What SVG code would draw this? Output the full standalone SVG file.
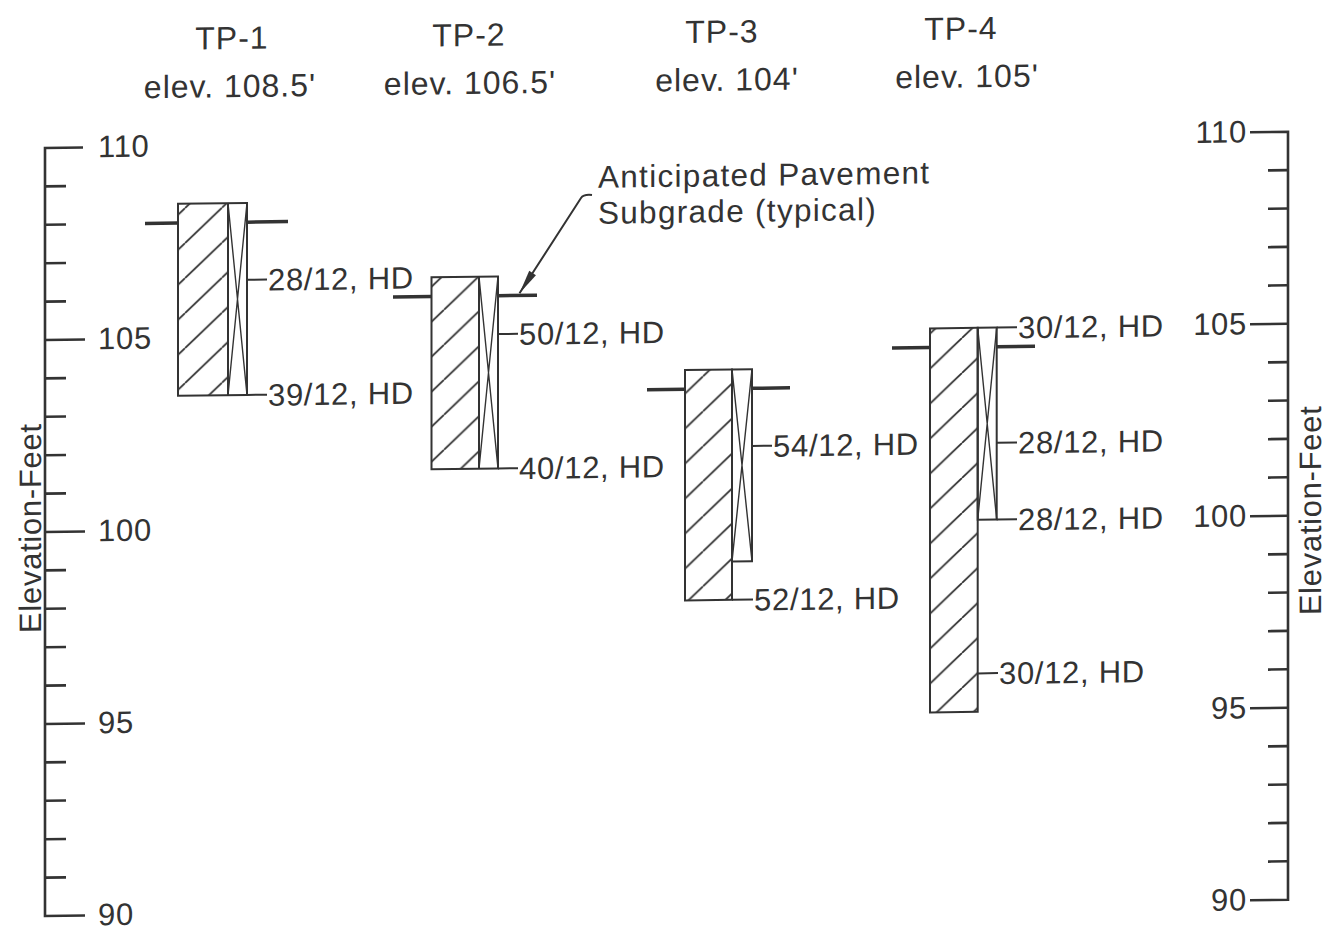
<svg xmlns="http://www.w3.org/2000/svg" width="1330" height="930" viewBox="0 0 1330 930">
<defs>
<style>
text{font-family:"Liberation Sans",Arial,sans-serif;font-size:31px;fill:#333;letter-spacing:0.7px}
.hdr{font-size:32px;letter-spacing:1px}
.ann{font-size:31.5px;letter-spacing:1.3px}
.ax{stroke:#333;stroke-width:2.6;fill:none}
.box{stroke:#333;stroke-width:2;fill:none}
.xl{stroke:#333;stroke-width:1.4;fill:none}
.sg{stroke:#333;stroke-width:3.5;fill:none}
.ld{stroke:#333;stroke-width:2;fill:none}
</style>
<pattern id="hatch" patternUnits="userSpaceOnUse" width="37" height="35">
<path d="M-37,35 L0,0 M0,35 L37,0 M37,35 L74,0" stroke="#333" stroke-width="1.8"/>
</pattern>
<marker id="arr" markerUnits="userSpaceOnUse" markerWidth="30" markerHeight="12" viewBox="-26 -6 28 12" refX="0" refY="0" orient="auto"><path d="M0,0 L-24,-4 L-24,4 Z" fill="#333"/></marker>
</defs>
<rect width="1330" height="930" fill="#fff"/>
<g transform="matrix(1,-0.0131,0,1,0,0.59)">
<g id="headers">
<text class="hdr" x="232" y="51.5" text-anchor="middle">TP-1</text>
<text class="hdr" x="230" y="99.5" text-anchor="middle">elev. 108.5'</text>
<text class="hdr" x="469" y="51.5" text-anchor="middle">TP-2</text>
<text class="hdr" x="470" y="99.5" text-anchor="middle">elev. 106.5'</text>
<text class="hdr" x="722" y="51.5" text-anchor="middle">TP-3</text>
<text class="hdr" x="727" y="99.5" text-anchor="middle">elev. 104'</text>
<text class="hdr" x="961" y="51.5" text-anchor="middle">TP-4</text>
<text class="hdr" x="967" y="99.5" text-anchor="middle">elev. 105'</text>
</g>
<g id="axis-left">
<path class="ax" d="M83,148H45V916H85"/>
<path class="ax" d="M45,186.4H66M45,224.8H66M45,263.2H66M45,301.6H66M45,340H85M45,378.4H66M45,416.8H66M45,455.2H66M45,493.6H66M45,532H85M45,570.4H66M45,608.8H66M45,647.2H66M45,685.6H66M45,724H85M45,762.4H66M45,800.8H66M45,839.2H66M45,877.6H66"/>
<text x="98" y="158">110</text>
<text x="98" y="350">105</text>
<text x="98" y="542">100</text>
<text x="98" y="734">95</text>
<text x="98" y="926">90</text>
<text transform="translate(41,528) rotate(-90)" text-anchor="middle">Elevation-Feet</text>
</g>
<g id="axis-right">
<path class="ax" d="M1250,148H1288V916H1250"/>
<path class="ax" d="M1268,186.4H1288M1268,224.8H1288M1268,263.2H1288M1268,301.6H1288M1250,340H1288M1268,378.4H1288M1268,416.8H1288M1268,455.2H1288M1268,493.6H1288M1250,532H1288M1268,570.4H1288M1268,608.8H1288M1268,647.2H1288M1268,685.6H1288M1250,724H1288M1268,762.4H1288M1268,800.8H1288M1268,839.2H1288M1268,877.6H1288"/>
<text x="1247" y="158" text-anchor="end">110</text>
<text x="1247" y="350" text-anchor="end">105</text>
<text x="1247" y="542" text-anchor="end">100</text>
<text x="1247" y="734" text-anchor="end">95</text>
<text x="1247" y="926" text-anchor="end">90</text>
<text transform="translate(1321,527) rotate(-90)" text-anchor="middle">Elevation-Feet</text>
</g>
<g id="tp1">
<rect x="178" y="205.6" width="50" height="192" fill="url(#hatch)"/>
<rect class="box" x="178" y="205.6" width="69" height="192"/>
<path class="box" d="M228,205.6V397.6"/>
<path class="xl" d="M228,205.6L247,397.6M247,205.6L228,397.6"/>
<path class="sg" d="M145,224.8H178M247,224.8H288"/>
<path class="ld" d="M247,282.4H267M247,397.6H267"/>
<text x="268" y="293.4">28/12, HD</text>
<text x="268" y="408.6">39/12, HD</text>
</g>
<g id="tp2">
<rect x="431.5" y="282.4" width="47.5" height="192" fill="url(#hatch)"/>
<rect class="box" x="431.5" y="282.4" width="66.5" height="192"/>
<path class="box" d="M479,282.4V474.4"/>
<path class="xl" d="M479,282.4L498,474.4M498,282.4L479,474.4"/>
<path class="sg" d="M393,301.6H431.5M498,301.6H537"/>
<path class="ld" d="M498,340H518M498,474.4H518"/>
<text x="519" y="351">50/12, HD</text>
<text x="519" y="485.4">40/12, HD</text>
</g>
<g id="tp3">
<rect x="685" y="378.4" width="47" height="230.4" fill="url(#hatch)"/>
<rect class="box" x="685" y="378.4" width="47" height="230.4"/>
<rect class="box" x="732" y="378.4" width="20" height="192"/>
<path class="xl" d="M732,378.4L752,570.4M752,378.4L732,570.4"/>
<path class="sg" d="M647,397.6H685M752,397.6H790"/>
<path class="ld" d="M752,455.2H772M732,608.8H753"/>
<text x="773" y="466.2">54/12, HD</text>
<text x="754" y="619.8">52/12, HD</text>
</g>
<g id="tp4">
<rect x="930" y="340" width="47.7" height="384" fill="url(#hatch)"/>
<rect class="box" x="930" y="340" width="47.7" height="384"/>
<rect class="box" x="977.7" y="340" width="19" height="192"/>
<path class="xl" d="M977.7,340L996.7,532M996.7,340L977.7,532"/>
<path class="sg" d="M892,359.2H930M996.7,359.2H1035"/>
<path class="ld" d="M996.7,340H1017M996.7,455.2H1017M996.7,532H1017M977.7,685.6H998"/>
<text x="1018" y="351">30/12, HD</text>
<text x="1018" y="466.2">28/12, HD</text>
<text x="1018" y="543">28/12, HD</text>
<text x="999" y="696.6">30/12, HD</text>
</g>
<g id="annotation">
<text class="ann" x="598" y="195">Anticipated Pavement</text>
<text class="ann" x="598" y="231">Subgrade (typical)</text>
</g>
<g id="connectors">
<path class="ld" d="M592,202.2C587,201.6 583,202 581,205L519.5,299.5" marker-end="url(#arr)"/>
</g>
</g>
</svg>
